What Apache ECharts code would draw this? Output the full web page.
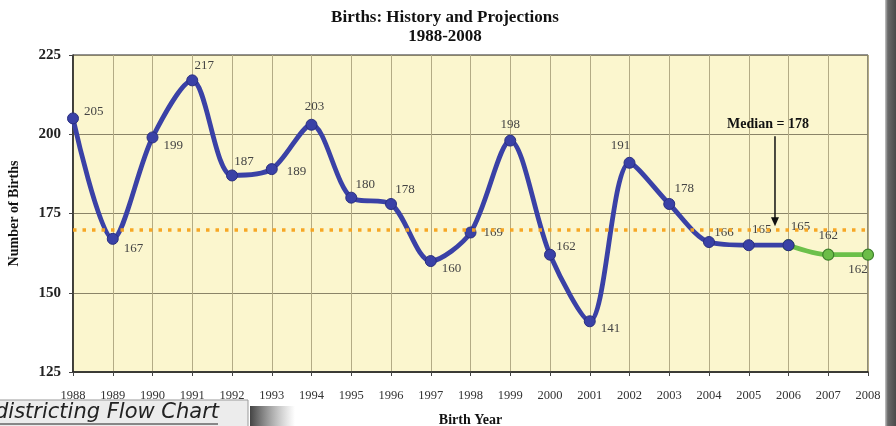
<!DOCTYPE html>
<html>
<head>
<meta charset="utf-8">
<script src="https://cdn.jsdelivr.net/npm/echarts@6/dist/echarts.min.js"></script>
<style>
html,body{margin:0;padding:0;background:#fff;}
#chart{width:896px;height:426px;}
</style>
</head>
<body>
<div id="chart"></div>
<script>
var years = ['1988','1989','1990','1991','1992','1993','1994','1995','1996','1997','1998','1999','2000','2001','2002','2003','2004','2005','2006','2007','2008'];
var birthsHistory = [205,167,199,217,187,189,203,180,178,160,169,198,162,141,191,178,166,165,165,null,null];
var birthsProjections = [null,null,null,null,null,null,null,null,null,null,null,null,null,null,null,null,null,null,165,162,162];
var medianLineValue = 170;
var medianText = 'Median = 178';
var yTicks = [125,150,175,200,225];

// label placement (style only)
var histLabelPos = [
  {position:'right',offset:[0,-7]},
  {position:'right',offset:[0,10]},
  {position:'right',offset:[0,8]},
  {position:'top',offset:[12,3]},
  {position:'top',offset:[12,4]},
  {position:'right',offset:[4,2]},
  {position:'top',offset:[3,-1]},
  {position:'top',offset:[14,4]},
  {position:'top',offset:[14,3]},
  {position:'right',offset:[0,8]},
  {position:'right',offset:[2,0]},
  {position:'top',offset:[0,1]},
  {position:'top',offset:[16,9]},
  {position:'right',offset:[0,7]},
  {position:'top',offset:[-9,0]},
  {position:'top',offset:[15,2]},
  {position:'top',offset:[15,8]},
  {position:'top',offset:[13,2]},
  {position:'top',offset:[12,-1]}
];
var projLabelPos = {19:{position:'top',offset:[0,-2]}, 20:{position:'bottom',offset:[-10,-3]}};

var serif = '"Liberation Serif", "DejaVu Serif", serif';

function buildHist(){
  return birthsHistory.map(function(v,i){
    if(v===null) return null;
    var p = histLabelPos[i];
    var o = {value:v};
    if(p){ o.label = {show:true, position:p.position, offset:p.offset}; }
    return o;
  });
}
function buildProj(){
  return birthsProjections.map(function(v,i){
    if(v===null) return null;
    var p = projLabelPos[i];
    var o = {value:v};
    if(p){ o.label = {show:true, position:p.position, offset:p.offset}; }
    else { o.label = {show:false}; }
    return o;
  });
}

var chart = echarts.init(document.getElementById('chart'), null, {renderer:'canvas'});
var option = {
  animation:false,
  backgroundColor:'#ffffff',
  title:{
    text:'Births: History and Projections\n1988-2008',
    left:440, top:3, textAlign:'center',
    textStyle:{fontFamily:serif, fontWeight:'bold', fontSize:17, lineHeight:19, color:'#111'}
  },
  grid:{left:73, right:28, top:55, bottom:54, outerBoundsMode:'none', containLabel:false,
    show:true, backgroundColor:'#FBF6CE', borderColor:'#222', borderWidth:1},
  xAxis:{
    type:'category', data:years, boundaryGap:false,
    name:'Birth Year', nameLocation:'middle', nameGap:41,
    nameTextStyle:{fontFamily:serif, fontWeight:'bold', fontSize:14, color:'#111'},
    axisLine:{lineStyle:{color:'#222', width:1.5}},
    axisTick:{show:true, length:4, lineStyle:{color:'#444'}},
    axisLabel:{fontFamily:serif, fontSize:12.5, color:'#333', margin:17, interval:0},
    splitLine:{show:true, lineStyle:{color:'#b3ab85', width:1}}
  },
  yAxis:{
    type:'value', min:125, max:225, interval:25,
    name:'Number of Births', nameLocation:'middle', nameGap:52, nameRotate:90,
    nameTextStyle:{fontFamily:serif, fontWeight:'bold', fontSize:14, color:'#111'},
    axisLine:{show:true, lineStyle:{color:'#222', width:1.5}},
    axisTick:{show:true, length:4, lineStyle:{color:'#444'}},
    axisLabel:{fontFamily:serif, fontWeight:'bold', fontSize:15, color:'#222', margin:12,
      formatter:function(v){ return yTicks.indexOf(v)>=0 ? String(v) : ''; }},
    splitLine:{show:true, lineStyle:{color:'#8a8468', width:1}}
  },
  series:[
    {
      name:'History', type:'line', data:buildHist(), smooth:0.3,
      symbol:'circle', symbolSize:11,
      lineStyle:{color:'#3A41A6', width:4.8},
      itemStyle:{color:'#3A41A6', borderColor:'#2a2f80', borderWidth:1},
      label:{fontFamily:serif, fontSize:13, color:'#444'},
      z:3,
      markLine:{
        silent:true, symbol:'none',
        label:{show:false},
        lineStyle:{color:'#F7A21B', width:3.5, type:[3.5,6], opacity:0.95},
        data:[{yAxis:medianLineValue}]
      }
    },
    {
      name:'Projections', type:'line', data:buildProj(), smooth:0.3,
      symbol:'circle', symbolSize:11,
      lineStyle:{color:'#6CC04A', width:4.8},
      itemStyle:{color:'#6CBD48', borderColor:'#3d7f2b', borderWidth:1.2},
      label:{fontFamily:serif, fontSize:13, color:'#444'},
      z:2
    }
  ]
};
chart.setOption(option);

// annotations positioned via the chart's scales
var p5 = chart.convertToPixel({gridIndex:0}, [17, 199.4]);
var p6 = chart.convertToPixel({gridIndex:0}, [18, 171]);
var ax = p5[0] + 0.66*(p6[0]-p5[0]);
var yTop = p5[1];
var yBot = p6[1];
var yText = chart.convertToPixel({gridIndex:0}, [17, 203])[1];

chart.setOption({
  graphic:[
    {type:'line', shape:{x1:ax, y1:yTop, x2:ax, y2:yBot-7}, style:{stroke:'#111', lineWidth:1.5}, z:10},
    {type:'polygon', shape:{points:[[ax-4,yBot-9],[ax+4,yBot-9],[ax,yBot]]}, style:{fill:'#111'}, z:10},
    {type:'text', x:ax-7, y:yText, style:{text:medianText, fill:'#111', font:'bold 14px ' + serif, textAlign:'center', textVerticalAlign:'middle'}, z:10},
    {type:'rect', shape:{x:885, y:0, width:11, height:426},
      style:{fill:new echarts.graphic.LinearGradient(0,0,1,0,[{offset:0,color:'#c8c8c8'},{offset:0.25,color:'#6a6a6a'},{offset:1,color:'#4a4a4a'}])}, z:20},
    {type:'rect', shape:{x:250, y:406, width:45, height:20},
      style:{fill:new echarts.graphic.LinearGradient(0,0,1,0,[{offset:0,color:'#444'},{offset:1,color:'rgba(120,120,120,0)'}])}, z:19},
    {type:'rect', shape:{x:-2, y:400, width:250, height:28},
      style:{fill:'#ececec', stroke:'#9a9a9a', lineWidth:1}, z:20},
    {type:'text', x:-5, y:413, style:{text:'districting Flow Chart', fill:'#222', font:'italic 21px "DejaVu Sans", sans-serif', textVerticalAlign:'middle'}, z:21},
    {type:'line', shape:{x1:0, y1:424, x2:218, y2:424}, style:{stroke:'#222', lineWidth:1.2}, z:21}
  ]
});
</script>
</body>
</html>
